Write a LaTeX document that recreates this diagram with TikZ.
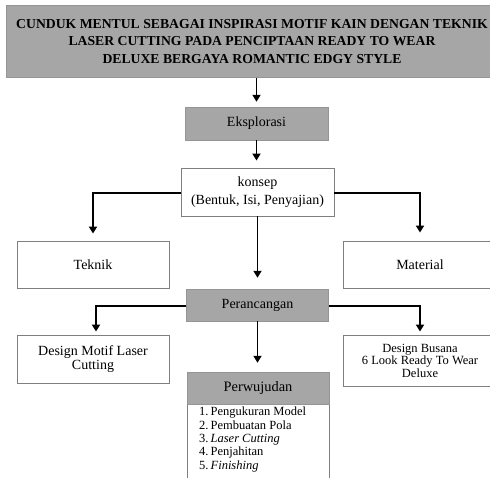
\documentclass[tikz,border=0pt]{standalone}
\usepackage{fontspec}
\setmainfont{Liberation Serif}
\usetikzlibrary{arrows.meta}
\definecolor{boxgray}{HTML}{A6A6A6}
\definecolor{edgegray}{HTML}{7F7F7F}
\begin{document}
\begin{tikzpicture}[x=1pt,y=-1pt,
  graybox/.style={draw=boxgray!90!black,line width=0.5pt,fill=boxgray,inner sep=0pt,align=center,
    font=\fontsize{14}{17}\selectfont},
  whitebox/.style={draw=edgegray,line width=0.9pt,fill=white,inner sep=0pt,align=center,
    font=\fontsize{14}{17}\selectfont},
  arr/.style={draw=black,line width=1.8pt,-{Triangle[width=8pt,length=7pt]}},
]
\useasboundingbox (0,0) rectangle (490,477);
\clip (0,0) rectangle (490,477);

\node[graybox,minimum width=492pt,minimum height=72pt,
  font=\fontsize{13.7}{17.5}\selectfont\bfseries] (title) at (252,41.5)
  {CUNDUK MENTUL SEBAGAI INSPIRASI MOTIF KAIN DENGAN TEKNIK\\
   LASER CUTTING PADA PENCIPTAAN READY TO WEAR\\
   DELUXE BERGAYA ROMANTIC EDGY STYLE};

\node[graybox,minimum width=143pt,minimum height=33pt] (eks) at (256.5,123.5) {Eksplorasi};

\node[whitebox,minimum width=153pt,minimum height=48pt,
  font=\fontsize{14}{18.5}\selectfont] (konsep) at (257.5,192) {konsep\\(Bentuk, Isi, Penyajian)};

\node[whitebox,minimum width=152pt,minimum height=47pt] (teknik) at (93,264.5) {Teknik};
\node[whitebox,minimum width=154pt,minimum height=47pt] (material) at (420,264.5) {Material};

\node[graybox,minimum width=142pt,minimum height=32pt] (per) at (257.5,305) {Perancangan};

\node[whitebox,minimum width=152pt,minimum height=48pt,
  font=\fontsize{14}{14.5}\selectfont] (dm) at (93,359) {Design Motif Laser\\Cutting};
\node[whitebox,minimum width=154pt,minimum height=51pt,
  font=\fontsize{12.5}{12.5}\selectfont] (db) at (420,360.5) {Design Busana\\6 Look Ready To Wear\\Deluxe};

\node[whitebox,minimum width=142pt,minimum height=90pt,anchor=north] (lst) at (258,404) {};
\node[graybox,minimum width=142pt,minimum height=32pt,font=\fontsize{14.4}{17}\selectfont] (pw) at (258,388) {Perwujudan};
\node[anchor=north west,inner sep=0pt,align=left,font=\fontsize{12.5}{13.3}\selectfont] (items) at (199,407)
  {1.\,Pengukuran Model\\2.\,Pembuatan Pola\\3.\,\textit{Laser Cutting}\\4.\,Penjahitan\\5.\,\textit{Finishing}};

\draw[arr,shorten >=5pt] (title.south -| eks.north) -- (eks.north);
\draw[arr,shorten >=7pt] (eks.south) -- (eks.south |- konsep.north);
\draw[arr,shorten >=7pt] ([yshift=-1pt]konsep.west) -| (teknik.north);
\draw[arr,shorten >=8pt] ([yshift=-1pt]konsep.east) -| (material.north);
\draw[arr,shorten >=11pt] (konsep.south) -- (konsep.south |- per.north);
\draw[arr,shorten >=3pt] ([yshift=-1pt]per.west) -| ([xshift=3pt]dm.north);
\draw[arr,shorten >=3pt] ([yshift=-1pt]per.east) -| (db.north);
\draw[arr,shorten >=9pt] (per.south) -- (per.south |- pw.north);
\end{tikzpicture}
\end{document}
